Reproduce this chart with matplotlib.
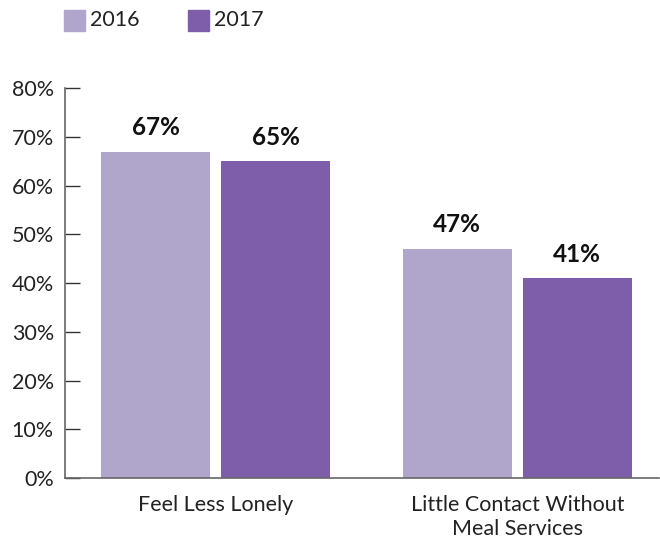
import numpy as np
import matplotlib
matplotlib.use("Agg")
import matplotlib.pyplot as plt
from matplotlib.patches import Rectangle

categories = ["Feel Less Lonely", "Little Contact Without\nMeal Services"]
series_names = ["2016", "2017"]
values_2016 = [67, 47]
values_2017 = [65, 41]
yticks = [0, 10, 20, 30, 40, 50, 60, 70, 80]

colors = ["#B0A6CB", "#7E5EAB"]

plt.rcParams["font.family"] = ["Lato", "DejaVu Sans"]

fig = plt.figure(figsize=(6.6, 5.41), dpi=100)
ax = fig.add_axes([0.0985, 0.1165, 0.9, 0.7205])

x = np.arange(len(categories))
width = 0.362
offset = 0.199
for vals, off, col in zip([values_2016, values_2017], [-offset, offset], colors):
    bars = ax.bar(x + off, vals, width=width, color=col, zorder=2)
    for b, v in zip(bars, vals):
        ax.text(b.get_x() + b.get_width() / 2, v + 2.6, f"{v}%",
                ha="center", va="bottom", fontsize=17.5, fontweight="bold",
                color="#111111")

ax.set_xlim(-0.5, 1.47)
ax.set_ylim(0, 80)
ax.set_yticks(yticks)
ax.set_yticklabels([f"{t}%" for t in yticks], fontsize=15.5, color="#222222")
ax.set_xticks(x)
ax.set_xticklabels(categories, fontsize=15.5, color="#222222", linespacing=1.3)
ax.tick_params(axis="y", direction="in", length=11, width=1, color="#333333", pad=8)
ax.tick_params(axis="x", length=0, pad=12)

for side in ["top", "right"]:
    ax.spines[side].set_visible(False)
for side in ["left", "bottom"]:
    ax.spines[side].set_color("#666666")
    ax.spines[side].set_linewidth(1.2)

# legend across the top
for i, (name, col) in enumerate(zip(series_names, colors)):
    x0 = 64 / 660 + i * 124 / 660
    fig.patches.append(Rectangle((x0, 1 - 31 / 541), 21 / 660, 21 / 541,
                                 transform=fig.transFigure, color=col))
    fig.text(x0 + 26 / 660, 1 - 20 / 541, name, fontsize=15.5,
             va="center", ha="left", color="#222222")

fig.savefig("out.png", dpi=100)
